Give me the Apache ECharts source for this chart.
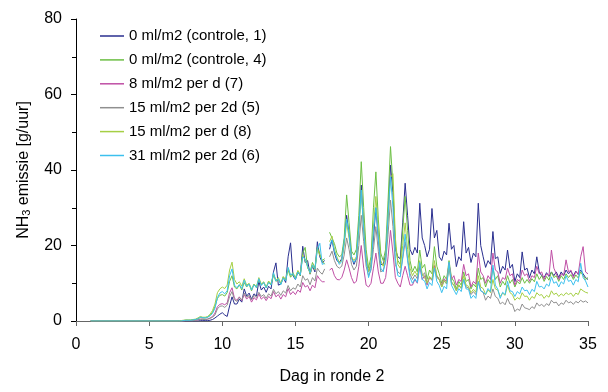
<!DOCTYPE html>
<html>
<head>
<meta charset="utf-8">
<script src="https://cdn.jsdelivr.net/npm/echarts@6/dist/echarts.min.js"></script>
<style>
  html, body { margin: 0; padding: 0; background: #fff; }
  #chart { width: 608px; height: 392px; }
</style>
</head>
<body>
<div id="chart"></div>
<script>
// NH3 emission per compartment, round 2 — 4-hourly samples from day 7 on.
const seriesNames = [
  '0 ml/m2 (controle, 1)',
  '0 ml/m2 (controle, 4)',
  '8 ml/m2 per d (7)',
  '15 ml/m2 per 2d (5)',
  '15 ml/m2 per d (8)',
  '31 ml/m2 per 2d (6)'
];
const xTicks = [0, 5, 10, 15, 20, 25, 30, 35];
const yTicks = [0, 20, 40, 60, 80];

// Measurement started on day 1 with no emission until day 7.
const startDay = 1;
const startValue = 0;
const sampleStartDay = 7;
const samplesPerDay = 6;

const control1 = [
  0,0,0,0,0,0,
  0,0,0,0.1,0.1,0.1,
  0.1,0.2,0.4,0.8,1.3,1.8,
  2.2,1.6,1.2,4.0,6.4,4.5,
  4.5,5.8,5.0,8.5,6.6,7.4,
  5.8,7.2,6.6,10.5,8.2,9.0,
  7.6,9.2,8.5,13.0,15.4,9.5,
  9.8,11.5,10.2,17.0,20.7,12.0,
  11.0,13.0,12.0,19.8,15.5,16.0,
  12.4,14.5,13.0,21.0,17.0,15.5,
  16.0,null,19.0,21.5,18.0,16.0,
  15.5,16.5,21.0,28.0,23.0,17.0,
  15.0,16.5,25.0,36.0,25.0,16.0,
  13.0,15.0,22.0,30.0,22.0,15.0,
  15.0,17.5,28.0,41.3,34.0,19.0,
  17.0,16.5,26.0,36.5,28.0,19.0,
  17.5,19.5,18.0,31.2,22.0,20.0,
  17.0,19.0,29.8,22.0,24.0,17.0,
  16.0,18.5,17.5,25.9,19.0,20.0,
  14.4,17.0,16.0,26.3,18.0,19.5,
  15.5,18.0,17.0,31.2,20.0,17.0,
  14.2,16.0,15.0,23.7,16.5,17.0,
  12.6,14.5,13.5,18.8,14.0,15.0,
  10.4,12.5,11.5,18.3,13.5,14.0,
  11.5,13.5,12.5,17.0,13.0,12.0,
  11.5,12.8,11.8,13.0,12.0,13.0,
  11.5,13.0,12.0,13.5,12.5,13.2,
  12.0,13.2,12.3,13.5,12.5,11.5,
  11.0
];
const control4 = [
  0,0,0.1,0.2,0.2,0.2,
  0.3,0.4,0.6,0.9,0.8,0.8,
  1.0,1.5,2.3,3.8,6.0,6.8,
  7.0,6.6,7.5,10.5,12.0,9.0,
  8.5,9.6,8.2,10.2,9.0,9.8,
  8.0,9.8,8.8,11.0,9.6,10.2,
  8.8,10.4,9.6,12.2,10.5,11.0,
  9.8,11.5,10.8,13.5,11.6,12.4,
  11.2,13.2,12.0,18.0,19.5,14.0,
  13.0,15.5,14.0,19.5,17.8,16.0,
  16.5,null,23.5,22.0,20.5,18.0,
  17.0,17.5,22.0,33.4,26.0,18.5,
  17.5,19.0,28.0,42.2,30.0,19.0,
  14.0,17.0,30.0,39.5,27.0,18.0,
  16.0,19.0,32.0,46.2,36.0,20.0,
  16.0,15.0,24.0,33.0,24.0,16.0,
  13.0,14.5,13.0,18.8,14.0,15.0,
  11.0,13.5,12.5,19.7,14.5,12.5,
  10.0,12.0,11.0,16.0,11.5,10.5,
  8.5,10.5,9.5,13.0,10.5,11.0,
  8.5,9.8,9.0,14.0,11.0,11.5,
  9.0,11.0,10.0,14.0,11.0,12.0,
  9.0,10.5,9.5,12.0,10.0,11.0,
  9.0,10.5,9.8,11.5,10.0,11.0,
  10.0,11.2,10.4,12.5,11.0,12.0,
  10.5,11.8,10.8,13.0,11.5,12.0,
  10.5,12.0,11.0,12.5,11.5,12.3,
  11.0,12.2,11.4,13.0,12.0,11.0,
  11.5
];
const dose8PerDay = [
  0,0,0,0.1,0.1,0.1,
  0.1,0.2,0.3,0.5,0.5,0.4,
  0.5,0.8,1.2,2.1,3.8,4.4,
  4.6,4.3,4.8,7.5,8.8,6.0,
  5.5,6.4,5.4,7.0,5.8,6.5,
  5.0,6.2,5.6,7.2,5.8,6.4,
  5.4,6.5,5.9,7.8,6.4,7.0,
  5.8,7.0,6.4,8.6,7.0,7.8,
  7.0,8.2,7.6,10.2,9.0,9.4,
  8.0,9.5,8.8,12.0,11.0,10.4,
  10.4,null,13.5,14.0,12.0,11.0,
  10.9,11.5,13.5,16.2,14.0,11.5,
  10.0,10.5,14.5,20.0,14.0,9.5,
  9.0,10.0,14.0,18.0,13.0,10.0,
  10.0,11.5,17.0,24.0,18.0,11.5,
  10.0,9.0,12.0,14.5,12.0,9.5,
  9.5,11.0,10.0,14.5,11.0,12.0,
  9.5,11.5,10.8,14.7,12.0,11.0,
  9.5,11.2,10.4,15.2,11.0,12.0,
  9.5,11.0,10.5,15.0,12.0,12.5,
  9.0,10.5,9.8,18.0,13.0,12.0,
  10.0,12.0,11.0,18.0,13.5,13.0,
  10.0,11.5,11.0,14.0,12.0,12.5,
  9.5,11.0,10.5,13.5,12.0,12.5,
  10.5,12.0,11.5,14.5,12.5,13.0,
  11.0,12.5,12.0,18.8,14.0,12.5,
  11.0,12.5,12.0,16.2,13.0,13.5,
  11.5,13.0,12.5,17.0,19.7,13.0,
  12.5
];
const dose15Per2d = [
  0,0,0,0.1,0.1,0.1,
  0.1,0.2,0.3,0.4,0.4,0.4,
  0.5,0.7,1.0,1.6,3.2,3.9,
  4.0,3.6,4.2,6.5,7.8,5.6,
  5.2,6.2,5.6,7.4,6.3,6.8,
  5.6,6.8,6.2,7.6,6.5,7.0,
  6.0,7.2,6.6,8.4,7.2,7.8,
  6.8,8.0,7.4,9.4,8.0,8.8,
  8.4,9.8,9.0,12.0,10.8,11.2,
  9.6,11.5,10.6,14.0,13.0,12.4,
  13.8,null,17.0,18.5,16.0,14.5,
  14.0,14.5,17.5,22.0,19.0,15.0,
  13.5,14.5,20.0,28.0,21.0,14.5,
  12.0,13.5,19.0,25.0,18.5,13.0,
  13.5,15.5,23.0,32.0,25.0,15.0,
  13.0,12.5,16.5,21.0,16.5,12.5,
  11.0,12.2,11.2,15.0,12.0,12.8,
  10.0,11.6,10.8,14.0,11.5,11.0,
  9.0,10.6,9.8,14.0,10.0,9.6,
  8.0,9.4,8.6,11.0,9.0,8.8,
  7.0,7.8,7.0,10.5,8.0,7.6,
  5.5,6.6,6.0,8.5,6.5,6.0,
  4.5,5.0,4.3,6.0,4.5,4.4,
  2.5,3.2,2.8,4.5,3.5,3.3,
  3.0,3.8,3.3,4.8,4.0,4.4,
  3.8,4.6,4.1,5.5,4.8,5.0,
  4.0,4.8,4.4,5.5,4.8,5.1,
  4.4,5.2,4.8,5.5,5.0,5.3,
  4.8
];
const dose15PerDay = [
  0,0.1,0.2,0.3,0.3,0.3,
  0.4,0.5,0.8,1.2,1.0,1.0,
  1.2,1.8,2.8,4.5,7.5,8.5,
  9.0,8.6,9.5,13.5,15.6,11.0,
  9.8,10.4,9.2,11.2,9.5,10.0,
  8.4,9.8,9.0,11.5,9.8,10.4,
  9.0,10.6,9.8,12.5,10.8,11.5,
  10.0,11.8,11.0,14.0,12.0,12.8,
  11.5,13.4,12.4,17.5,16.0,14.5,
  12.5,14.6,13.6,19.0,17.5,16.0,
  15.0,null,21.0,22.5,19.0,17.0,
  15.5,16.0,20.0,26.0,22.0,17.0,
  16.0,17.0,24.0,34.0,25.0,17.0,
  13.0,15.0,25.0,33.0,24.0,16.0,
  14.5,17.0,27.0,38.0,39.0,22.0,
  15.0,14.0,20.0,26.0,19.0,14.0,
  12.0,13.2,12.0,16.0,12.5,11.5,
  10.0,11.8,11.0,16.0,12.0,11.0,
  9.0,10.8,10.0,14.8,10.5,9.4,
  8.0,9.6,8.8,12.0,9.5,9.2,
  7.5,8.4,7.6,12.0,9.0,8.6,
  7.0,8.2,7.5,11.0,8.5,8.2,
  6.5,7.4,6.8,9.5,7.5,7.0,
  5.5,6.2,5.8,7.5,6.5,6.6,
  5.5,6.5,6.0,7.5,6.8,7.0,
  6.0,6.8,6.3,8.0,7.0,7.4,
  6.5,7.2,6.7,7.5,7.0,7.4,
  6.5,7.4,7.0,8.5,8.0,7.6,
  7.4
];
const dose31Per2d = [
  0,0,0.1,0.2,0.2,0.2,
  0.3,0.4,0.6,1.0,0.9,0.8,
  1.0,1.4,2.0,3.4,6.2,7.4,
  7.8,7.2,8.0,12.0,13.8,9.5,
  8.8,9.6,8.6,10.8,9.2,9.8,
  8.2,9.6,8.9,11.2,9.4,10.2,
  8.8,10.2,9.5,12.8,10.6,11.2,
  9.6,11.4,10.6,14.2,12.2,12.6,
  11.0,13.0,12.2,17.0,16.5,14.4,
  12.8,14.8,13.8,19.0,20.6,15.0,
  15.3,null,20.0,21.5,18.5,16.5,
  15.0,15.8,21.0,27.0,23.0,16.5,
  15.5,16.5,25.0,34.7,24.0,16.0,
  11.5,14.0,24.0,30.0,22.0,14.0,
  13.0,16.0,28.0,38.2,30.0,16.5,
  12.0,11.7,17.0,23.0,16.0,11.5,
  10.0,11.2,10.2,15.5,11.0,10.6,
  8.5,10.2,9.4,14.0,10.5,9.4,
  7.5,9.2,8.5,15.6,9.5,8.2,
  7.0,8.6,7.8,11.0,8.5,8.4,
  6.0,6.8,6.0,10.4,8.0,7.6,
  7.0,8.6,7.8,14.8,9.5,8.4,
  6.0,7.6,7.0,10.5,8.0,7.8,
  6.5,7.8,7.2,9.0,8.0,8.2,
  7.0,8.4,7.8,10.5,9.0,9.2,
  8.5,9.8,9.2,11.7,10.0,10.4,
  9.0,10.4,9.8,12.0,10.5,10.8,
  9.5,11.0,10.4,15.3,11.5,10.6,
  9.0
];

const seriesValues = [control1, control4, dose8PerDay, dose15Per2d, dose15PerDay, dose31Per2d];
const seriesColors = ['#2a2f8f', '#6cbf44', '#bf4fa5', '#8f8f8f', '#a5cf45', '#3cc0ee'];

function toPoints(values) {
  const pts = [[startDay, startValue]];
  values.forEach((v, i) => {
    pts.push([sampleStartDay + i / samplesPerDay, v === null ? '-' : v]);
  });
  return pts;
}

const font = '"Liberation Sans", Arial, sans-serif';
const chart = echarts.init(document.getElementById('chart'), null, { renderer: 'canvas' });

chart.setOption({
  animation: false,
  backgroundColor: '#fff',
  textStyle: { fontFamily: font, color: '#000' },
  grid: { left: 76, right: 20, top: 19, bottom: 71, containLabel: false },
  legend: {
    orient: 'vertical',
    left: 95,
    top: 23,
    icon: 'rect',
    itemWidth: 24,
    itemHeight: 1.5,
    itemGap: 7.9,
    textStyle: { fontFamily: font, fontSize: 15, color: '#000', lineHeight: 16 },
    data: seriesNames
  },
  xAxis: {
    type: 'value',
    min: xTicks[0],
    max: xTicks[xTicks.length - 1],
    interval: xTicks[1] - xTicks[0],
    name: 'Dag in ronde 2',
    nameLocation: 'middle',
    nameGap: 48,
    nameTextStyle: { fontFamily: font, fontSize: 16, color: '#000' },
    axisLine: { show: true, onZero: false, lineStyle: { color: '#666', width: 1 } },
    axisTick: { show: true, length: 5, lineStyle: { color: '#666' } },
    axisLabel: { fontFamily: font, fontSize: 16, color: '#000', margin: 16 },
    splitLine: { show: false }
  },
  yAxis: {
    type: 'value',
    min: yTicks[0],
    max: yTicks[yTicks.length - 1],
    interval: yTicks[1] - yTicks[0],
    name: '{a|NH}{b|3}{a| emissie [g/uur]}',
    nameLocation: 'middle',
    nameGap: 44,
    nameTextStyle: {
      fontFamily: font,
      fontSize: 16,
      color: '#000',
      rich: {
        a: { fontFamily: font, fontSize: 16, color: '#000' },
        b: { fontFamily: font, fontSize: 11, color: '#000', padding: [6, 0, 0, 0] }
      }
    },
    axisLine: { show: true, lineStyle: { color: '#000', width: 1 } },
    axisTick: { show: true, length: 5, lineStyle: { color: '#000' } },
    minorTick: { show: true, splitNumber: 2, length: 4, lineStyle: { color: '#000' } },
    axisLabel: { fontFamily: font, fontSize: 16, color: '#000', margin: 14 },
    splitLine: { show: false }
  },
  series: seriesNames.map((name, k) => ({
    name: name,
    type: 'line',
    data: toPoints(seriesValues[k]),
    connectNulls: false,
    showSymbol: false,
    symbol: 'none',
    color: seriesColors[k],
    lineStyle: { color: seriesColors[k], width: 1 },
    itemStyle: { color: seriesColors[k] },
    emphasis: { disabled: true }
  }))
});
</script>
</body>
</html>
